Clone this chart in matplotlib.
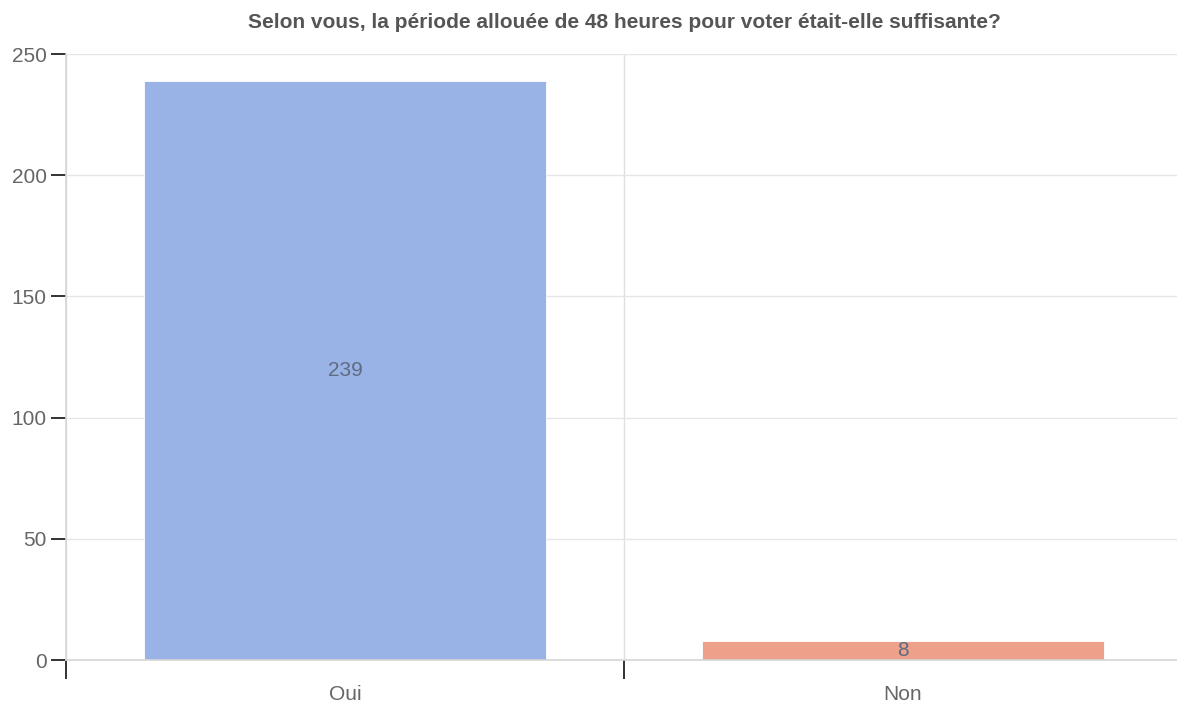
import numpy as np
import matplotlib
matplotlib.use("Agg")
import matplotlib.pyplot as plt

# données
categories = ["Oui", "Non"]
counts = [239, 8]
bar_colors = ["#99b3e6", "#eda08a"]
y_ticks = [0, 50, 100, 150, 200, 250]
title = "Selon vous, la période allouée de 48 heures pour voter était-elle suffisante?"

plt.rcParams["font.family"] = ["Liberation Sans", "DejaVu Sans"]

fig = plt.figure(figsize=(11.77, 7.05), dpi=100, facecolor="white")
ax = fig.add_axes([66 / 1177, 1 - 660 / 705, 1116 / 1177, 606 / 705])

x = np.arange(len(categories))
bars = ax.bar(x, counts, width=0.72, color=bar_colors, edgecolor="#ffffff",
              linewidth=0.6, zorder=2)
for b, v in zip(bars, counts):
    ax.text(b.get_x() + b.get_width() / 2, v / 2, str(v), ha="center", va="center",
            fontsize=15, color="#5f6b80", zorder=3)

ax.set_xlim(-0.5, len(categories) - 0.5)
ax.set_ylim(0, 250)
ax.set_yticks(y_ticks)
ax.set_yticklabels([str(t) for t in y_ticks])

# graduations de catégories aux limites, libellés au centre
ax.set_xticks(np.arange(len(categories) + 1) - 0.5)
ax.set_xticklabels([])
ax.set_xticks(x, minor=True)
ax.set_xticklabels(categories, minor=True)
ax.tick_params(axis="x", which="major", direction="out", length=14, width=1.3,
               color="#222222")
ax.tick_params(axis="x", which="minor", length=0, pad=18, labelsize=15,
               labelcolor="#666666")
ax.tick_params(axis="y", direction="out", length=11, width=1.3, color="#222222",
               labelsize=15, labelcolor="#666666", pad=3)

ax.grid(True, axis="y", color="#e6e6e6", linewidth=1, zorder=0)
ax.grid(True, axis="x", which="major", color="#e0e0e0", linewidth=1, zorder=0)
ax.set_axisbelow(True)

for side in ("top", "right"):
    ax.spines[side].set_visible(False)
for side in ("left", "bottom"):
    ax.spines[side].set_color("#d6d6d6")
    ax.spines[side].set_linewidth(1.2)

fig.text(624 / 1177, 1 - 22 / 705, title, ha="center", va="center",
         fontsize=15, fontweight="bold", color="#555555")

fig.savefig("out.png", dpi=100, facecolor="white")
